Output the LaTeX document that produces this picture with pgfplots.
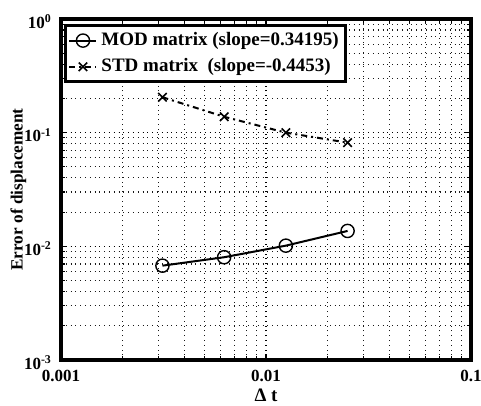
\documentclass[border=0pt]{standalone}
\usepackage{fontspec}
\setmainfont{Liberation Serif}
\usepackage{pgfplots}
\pgfplotsset{compat=1.18}

\begin{document}
\begin{tikzpicture}
\begin{axis}[
  xmode=log, ymode=log,
  scale only axis,
  width=205pt, height=170.5pt,
  xmin=0.001, xmax=0.1,
  ymin=0.001, ymax=1,
  axis line style={line width=1.6pt},
  tick align=inside,
  major tick length=3pt, minor tick length=1.8pt,
  every tick/.style={black, line width=0.6pt},
  grid=both,
  major grid style={dotted, black, line width=0.6pt},
  minor grid style={dotted, black!90, line width=0.6pt},
  xtick={0.001,0.01,0.1},
  xticklabels={\textbf{0.001},\textbf{0.01},\textbf{0.1}},
  ytick={0.001,0.01,0.1,1},
  yticklabels={\textbf{10}\textsuperscript{\textbf{-3}},\textbf{10}\textsuperscript{\textbf{-2}},\textbf{10}\textsuperscript{\textbf{-1}},\textbf{10}\textsuperscript{\textbf{0}}},
  tick label style={font=\fontsize{8.5}{10}\selectfont},
  xticklabel style={yshift=-1.5pt},
  yticklabel style={xshift=-1pt, yshift=-1.2pt},
  xlabel={\textbf{Δ t}},
  ylabel={\textbf{Error of displacement}},
  xlabel style={font=\fontsize{9.5}{11}\selectfont, yshift=3pt},
  ylabel style={font=\fontsize{8.6}{10}\selectfont, yshift=-8pt},
  legend style={at={(0,1)}, anchor=north west, xshift=1.5pt, yshift=-2.5pt,
    draw=black, line width=1.5pt,
    font=\fontsize{9.5}{11}\selectfont\bfseries, inner sep=1.5pt, row sep=1pt,
    cells={anchor=west}},
  legend image code/.code={\draw[mark repeat=2,mark phase=2,#1]
    plot coordinates {(0pt,0pt) (6.75pt,0pt) (13.5pt,0pt)};},
  legend cell align=left,
]
\addplot[black, line width=1pt, mark=o, mark size=3.3pt, mark options={solid, line width=0.7pt}]
  coordinates {(0.003125,0.00676) (0.00625,0.00802) (0.0125,0.01014) (0.025,0.01366)};
\addlegendentry{MOD matrix\ (slope=0.34195)}
\addplot[black, line width=1pt, dash dot, mark=x, mark size=3pt, mark options={solid, line width=0.8pt}]
  coordinates {(0.003125,0.205) (0.00625,0.138) (0.0125,0.100) (0.025,0.0817)};
\addlegendentry{STD matrix\ \ (slope=-0.4453)}
\end{axis}
\pgfresetboundingbox
\path[use as bounding box] (current axis.south west) ++(-30.5pt,-23pt) rectangle ++(240.5pt,203pt);
\end{tikzpicture}
\end{document}
